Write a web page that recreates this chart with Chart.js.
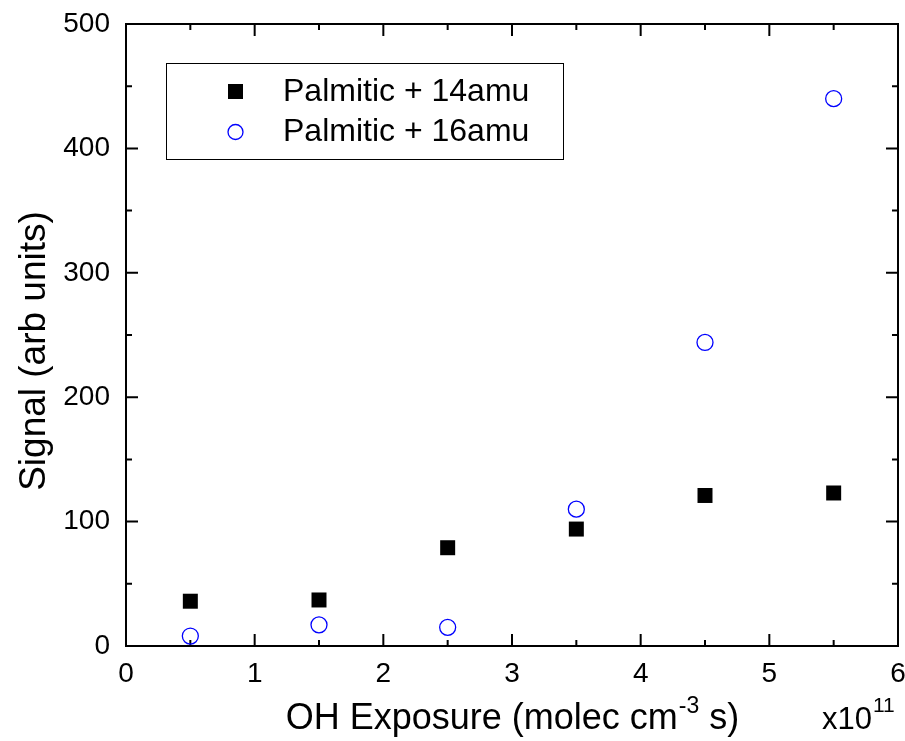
<!DOCTYPE html>
<html>
<head>
<meta charset="utf-8">
<script src="https://cdn.jsdelivr.net/npm/chart.js@4.4.0/dist/chart.umd.min.js"></script>
<style>
  html, body { margin: 0; padding: 0; background: #fff; }
  #wrap { width: 905px; height: 741px; }
</style>
</head>
<body>
<div id="wrap"><canvas id="chart" width="905" height="741"></canvas></div>
<script>
// data
const exposure = [0.5, 1.5, 2.5, 3.5, 4.5, 5.5];
const plus14 = [36, 37, 79, 94, 121, 123];
const plus16 = [8, 17, 15, 110, 244, 440];
const xTicks = [0, 1, 2, 3, 4, 5, 6];
const yTicks = [0, 100, 200, 300, 400, 500];
const seriesNames = ['Palmitic + 14amu', 'Palmitic + 16amu'];

const FONT = '"Liberation Sans", Arial, sans-serif';
const BLUE = '#0000ff';

// frame, inward ticks on all four sides, titles, legend
const framePlugin = {
  id: 'frame',
  beforeDatasetsDraw(chart) {
    const ctx = chart.ctx;
    const a = chart.chartArea;
    const xs = chart.scales.x, ys = chart.scales.y;
    ctx.save();
    ctx.strokeStyle = '#000';
    ctx.lineWidth = 2;
    ctx.strokeRect(a.left, a.top, a.right - a.left, a.bottom - a.top);
    ctx.beginPath();
    xTicks.forEach((v, i) => {
      const px = xs.getPixelForValue(v);
      ctx.moveTo(px, a.bottom); ctx.lineTo(px, a.bottom - 12);
      ctx.moveTo(px, a.top); ctx.lineTo(px, a.top + 12);
      if (i < xTicks.length - 1) {
        const pm = xs.getPixelForValue(v + 0.5);
        ctx.moveTo(pm, a.bottom); ctx.lineTo(pm, a.bottom - 6);
        ctx.moveTo(pm, a.top); ctx.lineTo(pm, a.top + 6);
      }
    });
    yTicks.forEach((v, i) => {
      const py = ys.getPixelForValue(v);
      ctx.moveTo(a.left, py); ctx.lineTo(a.left + 12, py);
      ctx.moveTo(a.right, py); ctx.lineTo(a.right - 12, py);
      if (i < yTicks.length - 1) {
        const pm = ys.getPixelForValue(v + 50);
        ctx.moveTo(a.left, pm); ctx.lineTo(a.left + 6, pm);
        ctx.moveTo(a.right, pm); ctx.lineTo(a.right - 6, pm);
      }
    });
    ctx.stroke();
    ctx.restore();
  },
  afterDraw(chart) {
    const ctx = chart.ctx;
    const a = chart.chartArea;
    ctx.save();
    ctx.fillStyle = '#000';

    // y title
    ctx.save();
    ctx.translate(45, 351);
    ctx.rotate(-Math.PI / 2);
    ctx.font = '37px ' + FONT;
    ctx.textAlign = 'center';
    ctx.textBaseline = 'alphabetic';
    ctx.fillText('Signal (arb units)', 0, 0);
    ctx.restore();

    // x title with superscript
    const big = '36px ' + FONT, small = '23px ' + FONT;
    const p1 = 'OH Exposure (molec cm', sup = '-3', p2 = ' s)';
    ctx.font = big; const w1 = ctx.measureText(p1).width, w3 = ctx.measureText(p2).width;
    ctx.font = small; const w2 = ctx.measureText(sup).width;
    let x0 = (a.left + a.right) / 2 - (w1 + w2 + w3) / 2;
    const base = 729;
    ctx.textAlign = 'left';
    ctx.textBaseline = 'alphabetic';
    ctx.font = big; ctx.fillText(p1, x0, base);
    ctx.font = small; ctx.fillText(sup, x0 + w1 + 1, base - 16);
    ctx.font = big; ctx.fillText(p2, x0 + w1 + w2 + 1, base);

    // multiplier
    ctx.font = '31px ' + FONT;
    ctx.fillText('x10', 822, base);
    const wx = ctx.measureText('x10').width;
    ctx.font = '21px ' + FONT;
    ctx.fillText('11', 822 + wx + 1, base - 17);

    // legend
    ctx.lineWidth = 1;
    ctx.strokeStyle = '#000';
    ctx.strokeRect(166.5, 63.5, 397, 96);
    ctx.fillRect(228, 84, 15, 15);
    ctx.strokeStyle = BLUE;
    ctx.lineWidth = 1.3;
    ctx.beginPath();
    ctx.arc(235.5, 132, 7.5, 0, Math.PI * 2);
    ctx.stroke();
    ctx.font = '32px ' + FONT;
    ctx.textBaseline = 'middle';
    ctx.fillStyle = '#000';
    ctx.fillText(seriesNames[0], 283, 92);
    ctx.fillText(seriesNames[1], 283, 132);
    ctx.restore();
  }
};

function noPad(s) {
  s.paddingTop = 0; s.paddingBottom = 0; s.paddingLeft = 0; s.paddingRight = 0;
}

const ctx = document.getElementById('chart').getContext('2d');
new Chart(ctx, {
  type: 'scatter',
  data: {
    datasets: [
      {
        label: seriesNames[0],
        data: exposure.map((x, i) => ({ x: x, y: plus14[i] })),
        pointStyle: 'rect',
        pointRadius: 10.6,
        pointBackgroundColor: '#000',
        pointBorderColor: '#000',
        pointBorderWidth: 0,
        order: 2
      },
      {
        label: seriesNames[1],
        data: exposure.map((x, i) => ({ x: x, y: plus16[i] })),
        pointStyle: 'circle',
        pointRadius: 8,
        pointBackgroundColor: 'rgba(0,0,0,0)',
        pointBorderColor: BLUE,
        pointBorderWidth: 1.3,
        order: 1
      }
    ]
  },
  options: {
    responsive: false,
    animation: false,
    layout: { autoPadding: false, padding: { left: 0, top: 24, right: 7, bottom: 0 } },
    plugins: { legend: { display: false }, tooltip: { enabled: false } },
    scales: {
      x: {
        type: 'linear',
        min: 0, max: 6,
        afterFit(s) { s.height = 95; noPad(s); },
        afterBuildTicks(s) { s.ticks = xTicks.map(v => ({ value: v })); },
        grid: { display: false, drawTicks: false },
        border: { display: false },
        ticks: { color: '#000', padding: 11, font: { size: 28, family: FONT }, maxRotation: 0 }
      },
      y: {
        type: 'linear',
        min: 0, max: 500,
        afterFit(s) { s.width = 126; noPad(s); },
        afterBuildTicks(s) { s.ticks = yTicks.map(v => ({ value: v })); },
        grid: { display: false, drawTicks: false },
        border: { display: false },
        ticks: { color: '#000', padding: 16, font: { size: 28, family: FONT } }
      }
    }
  },
  plugins: [framePlugin]
});
</script>
</body>
</html>
